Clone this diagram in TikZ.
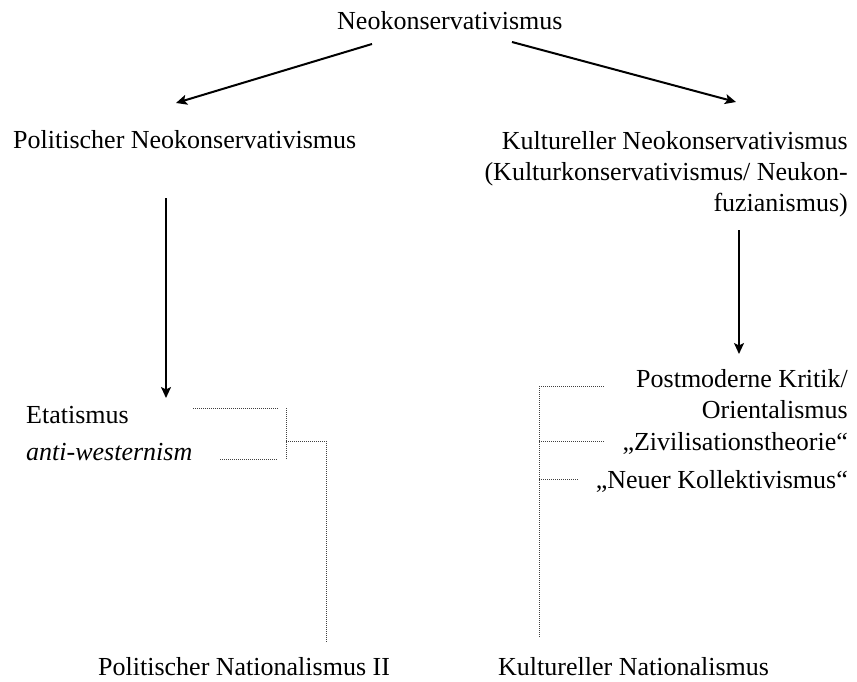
\documentclass[tikz,border=0pt]{standalone}
\usepackage{fontspec}
\setmainfont{Liberation Serif}
\usetikzlibrary{arrows.meta}

\begin{document}
\begin{tikzpicture}[x=1pt, y=-1pt, >={Stealth[length=11pt,width=10pt,inset=2.5pt]},
  font=\fontsize{26}{31}\selectfont,
  lbl/.style={inner sep=0pt},
  link/.style={->, line width=2pt},
  leader/.style={line width=1pt, black!75, dash pattern=on 1pt off 1pt}]
\useasboundingbox (0,0) rectangle (857,682);

% Kopf und erste Ebene
\node[lbl, anchor=base west] (neo) at (337,30) {Neokonservativismus};
\node[lbl, anchor=base west] (pol) at (13,149) {Politischer Neokonservativismus};
\node[lbl, anchor=north east, align=right] (kul) at (848,131) {Kultureller Neokonservativismus\\(Kulturkonservativismus/ Neukon-\\fuzianismus)};

\coordinate (neoL) at (372,44);
\coordinate (neoR) at (512,42);
\coordinate (polT) at (176,103);
\coordinate (kulT) at (736,102);
\draw[link] (neoL) -- (polT);
\draw[link] (neoR) -- (kulT);

% zweite Ebene
\node[lbl, anchor=base west] (eta) at (26,423) {Etatismus};
\node[lbl, anchor=base west] (anti) at (26,460) {\itshape anti-westernism};
\node[lbl, anchor=north east, align=right] (post) at (848,369) {Postmoderne Kritik/\\Orientalismus};
\node[lbl, anchor=base east] (ziv) at (848,450) {„Zivilisationstheorie“};
\node[lbl, anchor=base east] (koll) at (848,488) {„Neuer Kollektivismus“};

\coordinate (polB) at (166,198);
\coordinate (etaT) at (166,398);
\coordinate (kulB) at (739,230);
\coordinate (postT) at (739,354);
\draw[link] (polB) -- (etaT);
\draw[link] (kulB) -- (postT);

% unterste Ebene
\node[lbl, anchor=base west] (pnat) at (98,675) {Politischer Nationalismus II};
\node[lbl, anchor=base west] (knat) at (498,675) {Kultureller Nationalismus};

% Klammer links
\coordinate (b1) at (286,408);
\coordinate (b2) at (286,459);
\coordinate (bm) at (286,441);
\coordinate (bd) at (326,441);
\coordinate (pnatT) at (326,642);
\draw[leader] (193,408) -- (278,408);
\draw[leader] (220,459) -- (278,459);
\draw[leader] (b1) -- (b2);
\draw[leader] (bm) -- (bd) -- (pnatT);

% Klammer rechts
\coordinate (r1) at (539,386);
\coordinate (r2) at (539,441);
\coordinate (r3) at (539,479);
\coordinate (knatT) at (539,637);
\draw[leader] (r1) -- (knatT);
\draw[leader] (r1) -- ++(66,0);
\draw[leader] (r2) -- ++(66,0);
\draw[leader] (r3) -- ++(39,0);
\end{tikzpicture}
\end{document}
